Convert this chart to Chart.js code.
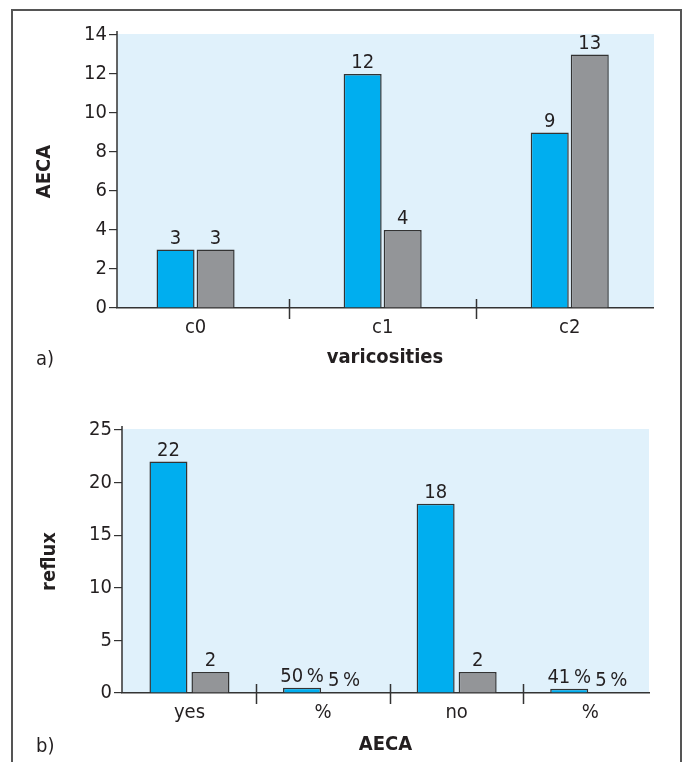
<!DOCTYPE html>
<html>
<head>
<meta charset="utf-8">
<script src="https://cdn.jsdelivr.net/npm/chart.js@4.4.1/dist/chart.umd.min.js"></script>
<style>
    body { margin: 0; background: #fff; }
    #page { position: relative; width: 688px; height: 762px; overflow: hidden; }
    #frame { position: absolute; left: 11px; top: 9px; width: 671px; height: 800px; border: 2px solid #555; box-sizing: border-box; }
    canvas { position: absolute; left: 0; }
    .tag { position: absolute; left: 36px; font: 20px 'DejaVu Sans Condensed', 'Liberation Sans Narrow', sans-serif; color: #231f20; }
</style>
</head>
<body>
<div id="page">
    <div id="frame"></div>
    <canvas id="chartA" width="688" height="381" style="top:0"></canvas>
    <canvas id="chartB" width="688" height="381" style="top:381px"></canvas>
    <div class="tag" style="top:346px">a)</div>
    <div class="tag" style="top:733px">b)</div>
</div>
<script>
// a) AECA by varicosities
const topCategories = ['c0', 'c1', 'c2'];
const topBlue = [3, 12, 9];
const topGrey = [3, 4, 13];
const topTicks = [0, 2, 4, 6, 8, 10, 12, 14];

// b) reflux by AECA
const bottomCategories = ['yes', '%', 'no', '%'];
const bottomBlue = [22, 0.5, 18, 0.41];
const bottomGrey = [2, 0.05, 2, 0.05];
const bottomBlueLabels = ['22', '50\u2009%', '18', '41\u2009%'];
const bottomGreyLabels = ['2', '5\u2009%', '2', '5\u2009%'];
const bottomTicks = [0, 5, 10, 15, 20, 25];

const FONT = "'DejaVu Sans Condensed', 'Liberation Sans Narrow', sans-serif";
const INK = '#231f20';
const BLUE = '#00aeef';
const GREY = '#939598';
const PANEL = '#e0f1fb';
const EDGE = '#333';

// light blue panel, y axis line and category dividers
const panelPlugin = {
    id: 'panel',
    beforeDraw(chart) {
        const { ctx, chartArea } = chart;
        const o = chart.options.plugins.panel;
        ctx.save();
        ctx.fillStyle = PANEL;
        ctx.fillRect(chartArea.left, chartArea.top - 1, o.panelRight - chartArea.left, chartArea.bottom - chartArea.top + 1);
        ctx.restore();
    },
    afterDatasetsDraw(chart) {
        const { ctx, chartArea, scales } = chart;
        ctx.save();
        ctx.strokeStyle = EDGE;
        ctx.lineWidth = 1.5;
        ctx.beginPath();
        ctx.moveTo(chartArea.left, chartArea.top - 4);
        ctx.lineTo(chartArea.left, chartArea.bottom);
        const n = scales.x.ticks.length;
        for (let i = 0; i < n - 1; i++) {
            const px = Math.round(scales.x.getPixelForValue(i + 0.5)) + 0.5;
            ctx.moveTo(px, chartArea.bottom - 9);
            ctx.lineTo(px, chartArea.bottom + 11);
        }
        ctx.stroke();
        ctx.restore();
    }
};

// value labels above the bars
const valueLabels = {
    id: 'valueLabels',
    afterDatasetsDraw(chart) {
        const { ctx } = chart;
        ctx.save();
        ctx.font = '20px ' + FONT;
        ctx.fillStyle = INK;
        ctx.textAlign = 'center';
        ctx.textBaseline = 'alphabetic';
        chart.data.datasets.forEach((ds, d) => {
            chart.getDatasetMeta(d).data.forEach((bar, i) => {
                ctx.fillText(ds.labels[i], bar.x, bar.y - 6);
            });
        });
        ctx.restore();
    }
};

function makeChart(id, cfg) {
    const points = vals => vals.map((v, i) => ({ x: i, y: v }));
    return new Chart(document.getElementById(id), {
        type: 'bar',
        data: {
            datasets: [{
                data: points(cfg.blue),
                labels: cfg.blueLabels,
                backgroundColor: BLUE,
                borderColor: EDGE,
                borderWidth: 1.5,
                categoryPercentage: cfg.catPct,
                barPercentage: cfg.barPct
            }, {
                data: points(cfg.grey),
                labels: cfg.greyLabels,
                backgroundColor: GREY,
                borderColor: EDGE,
                borderWidth: 1.5,
                categoryPercentage: cfg.catPct,
                barPercentage: cfg.barPct
            }]
        },
        options: {
            responsive: false,
            animation: false,
            layout: { padding: cfg.padding },
            plugins: {
                legend: { display: false },
                tooltip: { enabled: false },
                panel: { panelRight: cfg.panelRight }
            },
            scales: {
                x: {
                    type: 'linear',
                    offset: false,
                    min: cfg.xMin,
                    max: cfg.xMax,
                    afterBuildTicks: s => { s.ticks = cfg.categories.map((c, i) => ({ value: i })); },
                    afterFit: s => { s.height = cfg.xHeight; },
                    grid: { display: false },
                    border: { color: EDGE, width: 1.5 },
                    ticks: {
                        autoSkip: false,
                        maxRotation: 0,
                        padding: 0,
                        color: INK,
                        font: { family: FONT, size: 20 },
                        callback: v => cfg.categories[v]
                    },
                    title: {
                        display: true,
                        text: cfg.xTitle,
                        color: INK,
                        padding: 0,
                        font: { family: FONT, size: 20, weight: 'bold' }
                    }
                },
                y: {
                    min: 0,
                    max: cfg.ticks[cfg.ticks.length - 1],
                    afterBuildTicks: s => { s.ticks = cfg.ticks.map(v => ({ value: v })); },
                    afterFit: s => { s.width = cfg.yWidth; },
                    grid: { drawOnChartArea: false, tickLength: 8, color: EDGE, lineWidth: 1.2 },
                    border: { display: false },
                    ticks: {
                        padding: 2,
                        color: INK,
                        font: { family: FONT, size: 20 }
                    },
                    title: {
                        display: true,
                        text: cfg.yTitle,
                        color: INK,
                        padding: { top: cfg.yTitlePad, bottom: 0 },
                        font: { family: FONT, size: 20, weight: 'bold' }
                    }
                }
            }
        },
        plugins: [panelPlugin, valueLabels]
    });
}

makeChart('chartA', {
    categories: topCategories,
    blue: topBlue,
    grey: topGrey,
    blueLabels: topBlue.map(String),
    greyLabels: topGrey.map(String),
    ticks: topTicks,
    xTitle: 'varicosities',
    yTitle: 'AECA',
    xMin: -0.42,
    xMax: 2.445,
    catPct: 0.428,
    barPct: 0.95,
    padding: { top: 35, left: 0, right: 35, bottom: 11 },
    xHeight: 62,
    yWidth: 117,
    yTitlePad: 33,
    panelRight: 654
});

makeChart('chartB', {
    categories: bottomCategories,
    blue: bottomBlue,
    grey: bottomGrey,
    blueLabels: bottomBlueLabels,
    greyLabels: bottomGreyLabels,
    ticks: bottomTicks,
    xTitle: 'AECA',
    yTitle: 'reflux',
    xMin: -0.505,
    xMax: 3.44,
    catPct: 0.629,
    barPct: 0.905,
    padding: { top: 49, left: 0, right: 39, bottom: 5 },
    xHeight: 64,
    yWidth: 122,
    yTitlePad: 38,
    panelRight: 649
});
</script>
</body>
</html>
